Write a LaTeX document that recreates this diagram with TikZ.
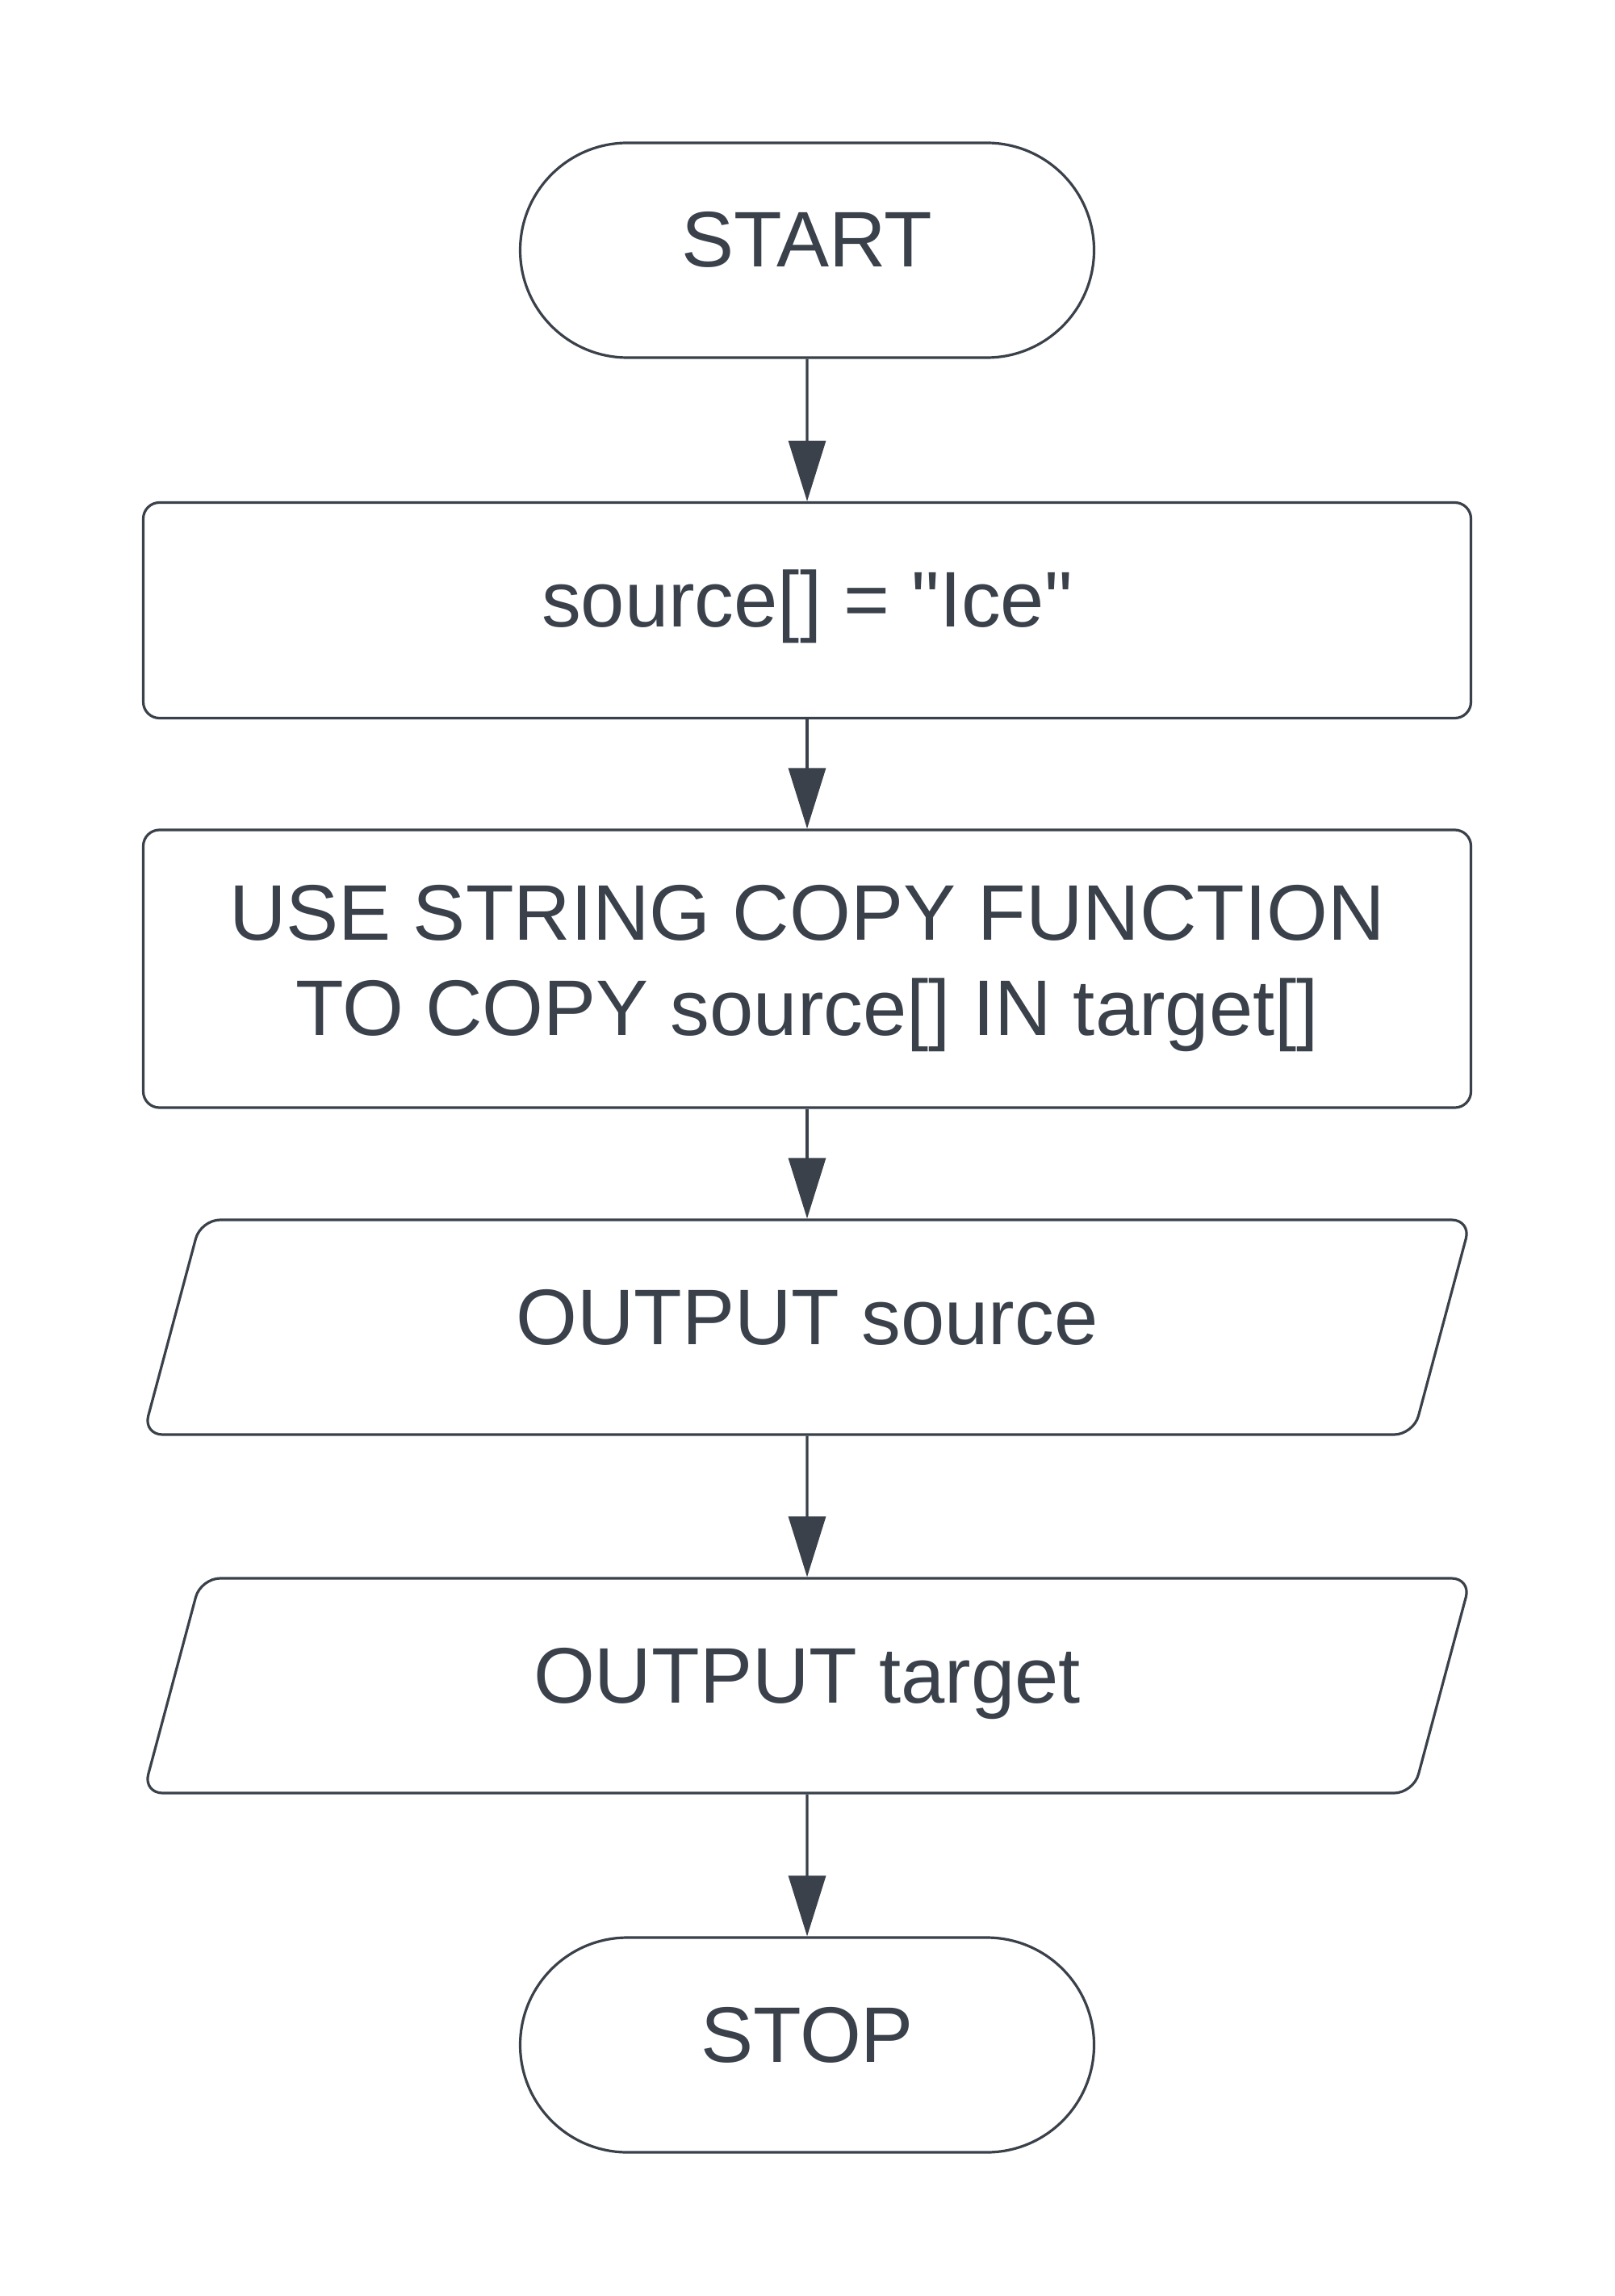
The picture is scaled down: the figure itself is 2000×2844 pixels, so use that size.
\documentclass[tikz,border=0pt]{standalone}
\usepackage{fontspec}
\setmainfont{Liberation Sans}[Ligatures=TeXOff]
\usepackage{tikz}
\usetikzlibrary{arrows.meta}
\usetikzlibrary{shapes.geometric}
\usetikzlibrary{shapes.misc}

\definecolor{ink}{RGB}{58,65,74}
\newcommand{\chartfont}{\fontsize{24.4pt}{29.5pt}\selectfont}

\tikzset{
    flow/.style={draw=ink, line width=0.8pt, text=ink, font=\chartfont, align=center, inner sep=0pt},
    oneline/.style={text height=17.5pt, text depth=7pt},
    terminal/.style={flow, oneline, rounded rectangle, minimum width=177.75pt, minimum height=66.5pt},
    process/.style={flow, rectangle, rounded corners=5pt, minimum width=411.25pt, minimum height=66.75pt},
    io/.style={flow, oneline, trapezium, trapezium left angle=75, trapezium right angle=105, trapezium stretches body, rounded corners=6pt, inner ysep=21pt, minimum width=411.25pt},
    link/.style={draw=ink, line width=0.8pt, -{Triangle[length=18.75pt, width=11.5pt]}}
}

\begin{document}
\begin{tikzpicture}[x=0.25pt, y=-0.25pt]
    \fill[white] (0,0) rectangle (2000,2844);
    \useasboundingbox (0,0) rectangle (2000,2844);
    \node[terminal] (start) at (1000,310) {START};
    \node[process, oneline] (init) at (1000,756) {source[] = "Ice"};
    \node[process, minimum height=86pt] (copy) at (1000,1200) {USE STRING COPY FUNCTION\\TO COPY source[] IN target[]};
    \node[io] (outsrc) at (1000,1644) {OUTPUT source};
    \node[io] (outtgt) at (1000,2088) {OUTPUT target};
    \node[terminal] (stop) at (1000,2533) {STOP};
    \draw[link] (start) -- (init);
    \draw[link] (init) -- (copy);
    \draw[link] (copy) -- (outsrc);
    \draw[link] (outsrc) -- (outtgt);
    \draw[link] (outtgt) -- (stop);
\end{tikzpicture}
\end{document}
